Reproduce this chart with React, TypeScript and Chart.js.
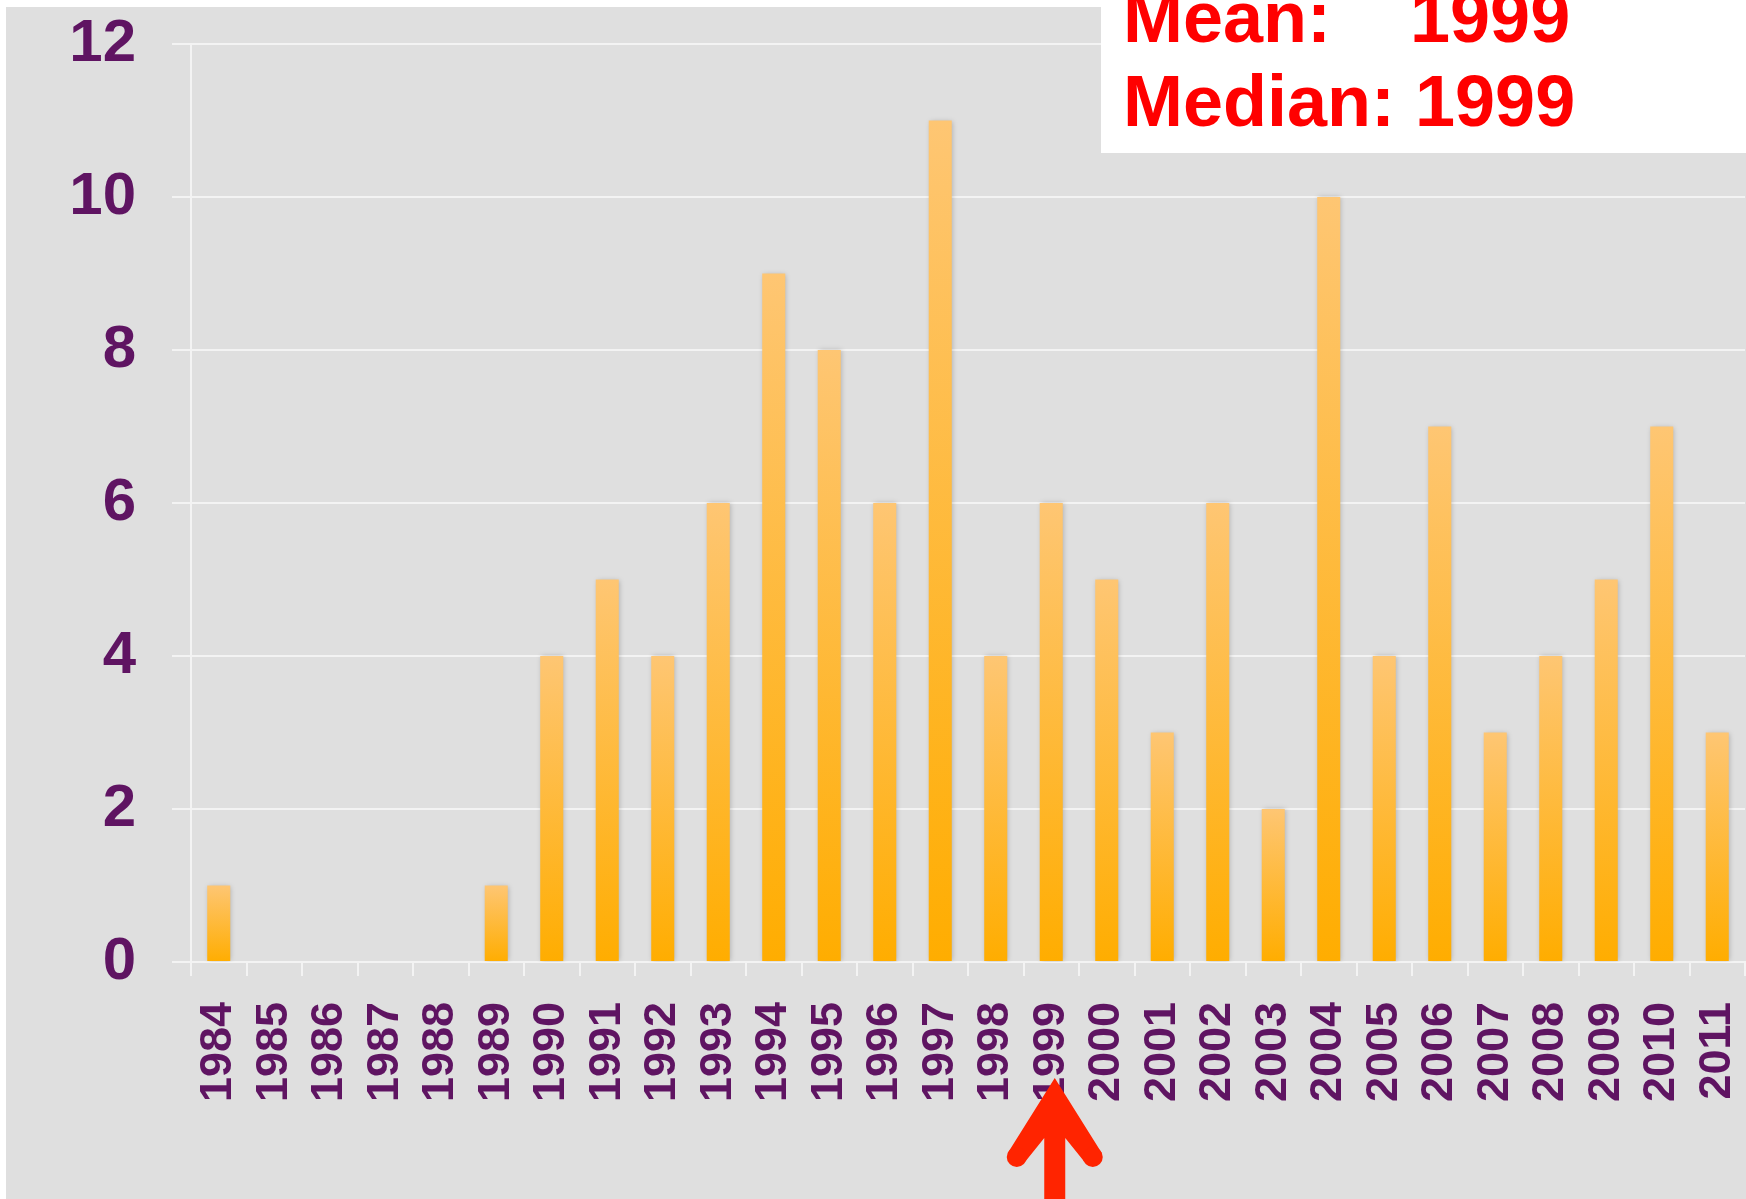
import React, { useEffect, useRef } from "react";
import { Chart, registerables } from "chart.js";

Chart.register(...registerables);

const years = [
  "1984", "1985", "1986", "1987", "1988", "1989", "1990", "1991", "1992", "1993",
  "1994", "1995", "1996", "1997", "1998", "1999", "2000", "2001", "2002", "2003",
  "2004", "2005", "2006", "2007", "2008", "2009", "2010", "2011",
];
const counts = [1, 0, 0, 0, 0, 1, 4, 5, 4, 6, 9, 8, 6, 11, 4, 6, 5, 3, 6, 2, 10, 4, 7, 3, 4, 5, 7, 3];
const yMin = 0;
const yMax = 12;
const yStep = 2;
const statLabels = ["Mean:", "Median:"];
const statValues = ["1999", "1999"];
const markedYear = "1999";

const W = 1746;
const H = 1199;
const FONT = "'Liberation Sans', Arial, sans-serif";
const PURPLE = "#5f1462";
const GRID = "#f3f3f3";

const noPad = (s: any) => {
  s.paddingLeft = 0;
  s.paddingRight = 0;
  s.paddingTop = 0;
  s.paddingBottom = 0;
};

export default function App() {
  const ref = useRef<HTMLCanvasElement | null>(null);

  useEffect(() => {
    const canvas = ref.current;
    if (!canvas) return;

    const backdrop = {
      id: "backdrop",
      beforeDraw(chart: any) {
        const c = chart.ctx;
        c.save();
        c.fillStyle = "#ffffff";
        c.fillRect(0, 0, W, H);
        c.fillStyle = "#dfdfdf";
        c.fillRect(6, 7, W - 6, H - 7);
        c.restore();
      },
      beforeDatasetsDraw(chart: any) {
        const c = chart.ctx;
        c.save();
        c.shadowColor = "rgba(0,0,0,0.22)";
        c.shadowBlur = 5;
        c.shadowOffsetX = 1;
        c.shadowOffsetY = 0;
      },
      afterDatasetsDraw(chart: any) {
        chart.ctx.restore();
      },
      afterDraw(chart: any) {
        const c = chart.ctx;
        // stats box
        c.save();
        c.fillStyle = "#ffffff";
        c.fillRect(1101, 0, W - 1101, 153);
        c.fillStyle = "#ff0000";
        c.font = `bold 72px ${FONT}`;
        c.textBaseline = "alphabetic";
        c.textAlign = "left";
        c.fillText(statLabels[0], 1123, 42);
        c.fillText(statValues[0], 1410, 42);
        c.fillText(statLabels[1] + " " + statValues[1], 1123, 126);
        c.restore();

        // arrow under the marked year
        const idx = years.indexOf(markedYear);
        const x = chart.scales.x.getPixelForValue(idx) + 3.5;
        const tipY = 1078;
        const shaftHalf = 10.5;
        const notchY = 1138;
        c.save();
        c.fillStyle = "#ff2400";
        c.beginPath();
        c.moveTo(x, tipY);
        c.lineTo(x - 47, 1153);
        c.lineTo(x - 29, 1161);
        c.lineTo(x - shaftHalf, notchY);
        c.lineTo(x - shaftHalf, H);
        c.lineTo(x + shaftHalf, H);
        c.lineTo(x + shaftHalf, notchY);
        c.lineTo(x + 29, 1161);
        c.lineTo(x + 47, 1153);
        c.closePath();
        c.fill();
        c.beginPath();
        c.arc(x - 38, 1157, 10, 0, Math.PI * 2);
        c.fill();
        c.beginPath();
        c.arc(x + 38, 1157, 10, 0, Math.PI * 2);
        c.fill();
        c.restore();
      },
    };

    const chart = new Chart(canvas, {
      type: "bar",
      data: {
        labels: years,
        datasets: [
          {
            data: counts,
            categoryPercentage: 1,
            barPercentage: 0.415,
            borderWidth: 0,
            backgroundColor: (ctx: any) => {
              const ch = ctx.chart;
              const ys = ch.scales && ch.scales.y;
              if (!ch.chartArea || !ys) return "#ffb000";
              const v = ctx.raw as number;
              const top = ys.getPixelForValue(v);
              const bot = ys.getPixelForValue(0);
              if (!(bot > top + 0.5)) return "#ffb000";
              const g = ch.ctx.createLinearGradient(0, top, 0, bot);
              g.addColorStop(0, "#fec673");
              g.addColorStop(1, "#ffad00");
              return g;
            },
          },
        ],
      },
      options: {
        animation: false,
        responsive: false,
        devicePixelRatio: 1,
        layout: { padding: { top: 44, right: 1, left: 0, bottom: 0 } },
        plugins: {
          legend: { display: false },
          tooltip: { enabled: false },
          title: { display: false },
        },
        scales: {
          x: {
            offset: true,
            grid: {
              offset: true,
              drawOnChartArea: false,
              drawTicks: true,
              tickLength: 14,
              color: GRID,
              lineWidth: 2,
            },
            border: { display: true, color: GRID, width: 2 },
            ticks: {
              autoSkip: false,
              minRotation: 90,
              maxRotation: 90,
              padding: 26,
              color: PURPLE,
              font: { family: FONT, size: 45, weight: "bold" },
            },
            afterFit: (s: any) => {
              s.height = H - 962;
              noPad(s);
            },
          },
          y: {
            min: yMin,
            max: yMax,
            grid: {
              color: GRID,
              lineWidth: 2,
              drawTicks: true,
              tickLength: 19,
            },
            border: { display: true, color: GRID, width: 2 },
            ticks: {
              stepSize: yStep,
              padding: 36,
              color: PURPLE,
              font: { family: FONT, size: 60, weight: "bold" },
            },
            afterFit: (s: any) => {
              s.width = 191;
              noPad(s);
            },
          },
        },
      },
      plugins: [backdrop],
    } as any);

    return () => chart.destroy();
  }, []);

  return (
    <div style={{ position: "fixed", left: 0, top: 0, width: W, height: H }}>
      <canvas ref={ref} width={W} height={H} style={{ width: W, height: H, display: "block" }} />
    </div>
  );
}
